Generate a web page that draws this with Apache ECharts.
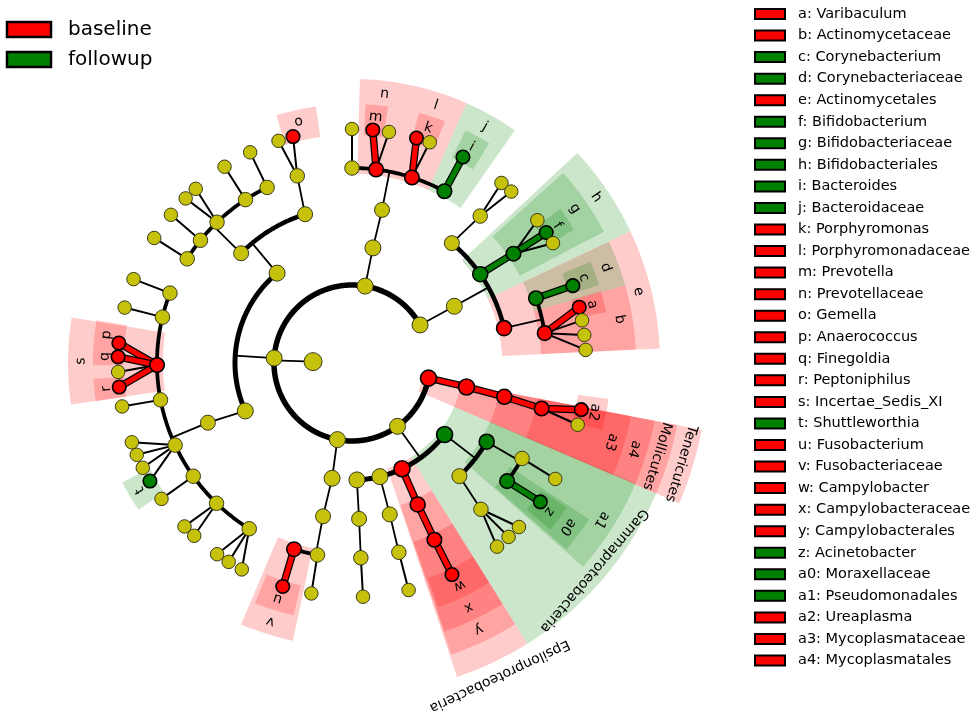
<!DOCTYPE html>
<html><head><meta charset="utf-8">
<script src="https://cdn.jsdelivr.net/npm/echarts@6/dist/echarts.min.js"></script>
<style>html,body{margin:0;padding:0;background:#fff}#c{width:976px;height:716px}</style>
</head><body><div id="c"></div>
<script>
// ---------- tree nodes: [id, parent, level, angle(deg, ccw from east), group 0=none 1=baseline 2=followup]
const rootNodes = [['root', null, 1, 178, 0]];
const phylumNodes = [
  ['Act','root',2,29.2,0], ['Bac','root',2,80.3,0], ['Fir','root',2,176.4,0],
  ['Fus','root',2,259.2,0], ['Pro','root',2,305.7,0], ['Ten','root',2,348.8,1]
];
const actinoNodes = [
  ['ActC','Act',3,29.0,0],
  ['e','ActC',4,12.9,1], ['h','ActC',4,34.7,2], ['ActO3','ActC',4,50.2,0],
  ['b','e',5,8.8,1], ['d','e',5,19.4,2],
  ['a','b',6,13.8,1], ['b1','b',6,10.5,0], ['b2','b',6,6.9,0], ['b3','b',6,3.2,0],
  ['c','d',6,19.3,2],
  ['g','h',5,34.1,2], ['f','g',6,33.9,2], ['g1','g',6,37.6,0], ['g2','g',6,30.8,0],
  ['ActF3','ActO3',5,48.9,0], ['ActG3a','ActF3',6,50.3,0], ['ActG3b','ActF3',6,47.1,0]
];
const bacteroNodes = [
  ['BacC','Bac',3,79.7,0], ['BacO','BacC',4,78.9,0],
  ['BacF1','BacO',5,90.0,0], ['n','BacO',5,82.9,1], ['l','BacO',5,72.1,1], ['j','BacO',5,61.7,2],
  ['BacG1','BacF1',6,90.0,0], ['m','n',6,84.9,1], ['n2','n',6,80.9,0],
  ['k','l',6,74.0,1], ['l2','l',6,70.6,0], ['i','j',6,61.7,2]
];
const firmiNodes = [
  ['Bacilli','Fir',3,129.8,0], ['Clostridia','Fir',3,204.2,0],
  ['GemO','Bacilli',4,107.5,0], ['LacO','Bacilli',4,135.3,0],
  ['GemF','GemO',5,106.3,0], ['o','GemF',6,104.6,1], ['GemG2','GemF',6,108.3,0],
  ['LacF1','LacO',5,115.8,0], ['LacF2','LacO',5,123.1,0], ['LacF3','LacO',5,133.8,0],
  ['LacF4','LacO',5,141.0,0], ['LacF5','LacO',5,147.7,0],
  ['LacG1','LacF1',6,115.8,0], ['LacG2','LacF2',6,123.0,0], ['LacG3a','LacF3',6,131.9,0],
  ['LacG3b','LacF3',6,135.3,0], ['LacG4','LacF4',6,140.7,0], ['LacG5','LacF5',6,147.7,0],
  ['CloO','Clostridia',4,202.5,0],
  ['CloF1','CloO',5,159.0,0], ['CloF2','CloO',5,166.4,0], ['s','CloO',5,180.6,1],
  ['CloF4','CloO',5,190.9,0], ['CloF5','CloO',5,204.9,0], ['CloF6','CloO',5,215.5,0],
  ['CloF7','CloO',5,226.0,0], ['CloF8','CloO',5,238.2,0],
  ['CloG1','CloF1',6,159.0,0], ['CloG2','CloF2',6,166.3,0],
  ['p','s',6,175.1,1], ['q','s',6,178.5,1], ['sG3','s',6,182.2,0], ['r','s',6,185.9,1],
  ['CloG4','CloF4',6,190.7,0],
  ['CloG5a','CloF5',6,199.8,0], ['CloG5b','CloF5',6,203.1,0], ['CloG5c','CloF5',6,206.6,0], ['t','CloF5',6,210.3,2],
  ['CloG6','CloF6',6,215.5,0],
  ['CloG7a','CloF7',6,224.3,0], ['CloG7b','CloF7',6,227.6,0],
  ['CloG8a','CloF8',6,234.8,0], ['CloG8b','CloF8',6,238.2,0], ['CloG8c','CloF8',6,241.9,0]
];
const fusoNodes = [
  ['FusC','Fus',3,260.2,0], ['FusO','FusC',4,259.3,0],
  ['v','FusO',5,252.7,1], ['FusF2','FusO',5,259.8,0],
  ['u','v',6,252.8,1], ['FusG2','FusF2',6,260.0,0]
];
const proteoNodes = [
  ['Beta','Pro',3,272.4,0], ['ProC2','Pro',3,283.8,0], ['Eps','Pro',3,295.3,1], ['Gam','Pro',3,322.3,2],
  ['BetaO','Beta',4,272.6,0], ['BetaF','BetaO',5,272.6,0], ['BetaG','BetaF',6,272.7,0],
  ['C2O','ProC2',4,284.0,0], ['C2F','C2O',5,283.9,0], ['C2G','C2F',6,284.0,0],
  ['y','Eps',4,294.9,1], ['x','y',5,295.0,1], ['w','x',6,295.3,1],
  ['a1','Gam',4,329.7,2], ['GamO2','Gam',4,313.5,0],
  ['a0','a1',5,322.7,2], ['PseF','a1',5,330.7,0],
  ['z','a0',6,323.6,2], ['PseG','PseF',6,330.3,0],
  ['PasF','GamO2',5,311.4,0], ['PasG1','PasF',6,315.5,0], ['PasG2','PasF',6,312.0,0], ['PasG3','PasF',6,308.3,0]
];
const teneNodes = [
  ['Mol','Ten',3,348.2,1], ['a4','Mol',4,347.5,1], ['a3','a4',5,346.5,1],
  ['a2','a3',6,348.5,1], ['TenG2','a3',6,344.7,0]
];

// ---------- highlighted clades
const cladeKeys = ['Tenericutes','Mollicutes','Gammaproteobacteria','Epsilonproteobacteria',
  'e','h','y','a1','a4',
  'b','d','g','j','l','n','s','v','x','a0','a3',
  'a','c','f','i','k','m','o','p','q','r','t','u','w','z','a2'];
const cladeLevels = [2,3,3,3, 4,4,4,4,4, 5,5,5,5,5,5,5,5,5,5,5, 6,6,6,6,6,6,6,6,6,6,6,6,6,6,6];
const cladeGroups = [1,1,2,1, 1,2,1,2,1, 1,2,2,2,1,1,1,1,1,2,1, 1,2,2,2,1,1,1,1,1,1,2,1,1,2,1];
const cladeFrom = [336.8,336.8,302.0,288.5, 2.7,25.3,288.8,318.6,336.8,
  2.7,15.9,27.5,55.0,66.2,77.8,170.8,247.0,289.0,319.0,336.8,
  11.3,17.5,31.0,58.0,69.0,82.0,98.0,170.5,176.5,183.5,207.5,248.0,289.5,320.0,345.0];
const cladeTo = [349.2,349.2,336.8,302.0, 25.3,43.0,302.0,337.0,349.2,
  15.9,25.3,42.0,66.2,77.8,88.4,188.4,258.0,302.0,326.6,349.2,
  16.1,23.0,36.5,64.0,75.0,87.0,107.0,176.5,180.5,188.5,214.5,257.0,302.0,326.0,352.0];

// ---------- legends
const groupNames = ['baseline','followup'];
const legendKeys = ['a','b','c','d','e','f','g','h','i','j','k','l','m','n','o','p','q','r','s','t','u','v','w','x','y','z','a0','a1','a2','a3','a4'];
const legendNames = ['Varibaculum','Actinomycetaceae','Corynebacterium','Corynebacteriaceae','Actinomycetales',
  'Bifidobacterium','Bifidobacteriaceae','Bifidobacteriales','Bacteroides','Bacteroidaceae','Porphyromonas',
  'Porphyromonadaceae','Prevotella','Prevotellaceae','Gemella','Anaerococcus','Finegoldia','Peptoniphilus',
  'Incertae_Sedis_XI','Shuttleworthia','Fusobacterium','Fusobacteriaceae','Campylobacter','Campylobacteraceae',
  'Campylobacterales','Acinetobacter','Moraxellaceae','Pseudomonadales','Ureaplasma','Mycoplasmataceae','Mycoplasmatales'];
const legendGroups = [1,1,2,2,1,2,2,2,2,2,1,1,1,1,1,1,1,1,1,2,1,1,1,1,1,2,2,2,1,1,1];

// ---------- styles / geometry
const PX = 39; // px per level unit
const groupColor = {0:'#c6c20c', 1:'#ff0000', 2:'#008000'};
const shadeColor = {1:'rgba(255,0,0,0.2)', 2:'rgba(0,128,0,0.2)'};
const outerPx = {2:356, 3:331, 4:308, 5:284, 6:259};
const labelPx = {2:344, 3:319, 4:295, 5:271, 6:247};
const nodeSize = {1:18, 2:16, 3:16, 4:15, 5:14.5, 6:13.5};
const arcW = {2:5.5, 3:5, 4:4.5, 5:3.8};
const FONT = '"DejaVu Sans", sans-serif';

const allNodes = [].concat(rootNodes, phylumNodes, actinoNodes, bacteroNodes, firmiNodes, fusoNodes, proteoNodes, teneNodes);
const kids = {};
allNodes.forEach(n => { if (n[1]) (kids[n[1]] = kids[n[1]] || []).push(n); });
const segs = [];
allNodes.forEach(p => {
  const ch = kids[p[0]]; if (!ch) return;
  const L = p[2], a = p[3];
  const fan = ch[0][2] === 6;
  if (fan || ch.length === 1) {
    ch.forEach(c => {
      const col = p[4] !== 0 && p[4] === c[4];
      segs.push({t:'line', r1:L, a1:a, r2:c[2], a2:c[3], w: col ? 5 : (fan ? 2 : 1.8), col: col ? groupColor[c[4]] : null});
    });
  } else {
    segs.push({t:'line', r1:L, a1:a, r2:L+1, a2:a, w:1.8, col:null});
    const angs = ch.map(c => c[3]).concat([a]);
    segs.push({t:'arc', r1:L+1, a1:Math.min.apply(null, angs), a2:Math.max.apply(null, angs), w:arcW[L+1], col:null});
  }
});

function segPoints(s, api) {
  if (s.t === 'line') return [api.coord([s.r1, s.a1]), api.coord([s.r2, s.a2])];
  const pts = []; const n = Math.max(2, Math.ceil((s.a2 - s.a1) / 0.5));
  for (let k = 0; k <= n; k++) pts.push(api.coord([s.r1, s.a1 + (s.a2 - s.a1) * k / n]));
  return pts;
}

const chart = echarts.init(document.getElementById('c'), null, {renderer:'canvas'});

const legendGraphics = [];
groupNames.forEach((g, i) => {
  legendGraphics.push({type:'rect', shape:{x:7, y:22 + i*30, width:44, height:15}, style:{fill:groupColor[i+1], stroke:'#000', lineWidth:2.5}});
  legendGraphics.push({type:'text', x:68, y:30 + i*30, style:{text:g, font:'20px ' + FONT, fill:'#000', verticalAlign:'middle'}});
});
legendKeys.forEach((k, i) => {
  const yc = 14 + i * 21.55;
  legendGraphics.push({type:'rect', shape:{x:755, y:yc - 5, width:30, height:10}, style:{fill:groupColor[legendGroups[i]], stroke:'#000', lineWidth:2}});
  legendGraphics.push({type:'text', x:798, y:yc, style:{text:k + ': ' + legendNames[i], font:'14.5px ' + FONT, fill:'#000', verticalAlign:'middle'}});
});

chart.setOption({
  animation:false,
  backgroundColor:'#fff',
  polar:{center:[352,363], radius:PX*10},
  angleAxis:{type:'value', min:0, max:360, startAngle:0, clockwise:false, show:false, splitLine:{show:false}},
  radiusAxis:{type:'value', min:0, max:10, show:false, splitLine:{show:false}},
  graphic: legendGraphics,
  series:[
    { // shaded clade sectors
      type:'custom', coordinateSystem:'polar', z:1, silent:true,
      data: cladeKeys.map((k, i) => [cladeLevels[i], (cladeFrom[i] + cladeTo[i]) / 2]),
      renderItem: function(params, api) {
        const i = params.dataIndex, L = cladeLevels[i];
        const r0 = L - 0.15, r1 = outerPx[L] / PX;
        const a0 = cladeFrom[i], a1 = cladeTo[i];
        const n = Math.max(2, Math.ceil((a1 - a0) / 0.5));
        const pts = [];
        for (let k = 0; k <= n; k++) pts.push(api.coord([r1, a0 + (a1 - a0) * k / n]));
        for (let k = n; k >= 0; k--) pts.push(api.coord([r0, a0 + (a1 - a0) * k / n]));
        return {type:'polygon', shape:{points:pts}, style:{fill:shadeColor[cladeGroups[i]]}};
      }
    },
    { // tree edges
      type:'custom', coordinateSystem:'polar', z:2, silent:true,
      data: segs.map(s => [s.r1, s.a1]),
      renderItem: function(params, api) {
        const s = segs[params.dataIndex];
        const pts = segPoints(s, api);
        const children = [];
        if (s.col) {
          children.push({type:'polyline', shape:{points:pts}, style:{stroke:'#000', lineWidth:s.w + 2.5, fill:null, lineCap:'round'}});
          children.push({type:'polyline', shape:{points:pts}, style:{stroke:s.col, lineWidth:s.w, fill:null, lineCap:'round'}});
        } else {
          children.push({type:'polyline', shape:{points:pts}, style:{stroke:'#000', lineWidth:s.w, fill:null, lineCap:'round'}});
        }
        return {type:'group', children:children};
      }
    },
    { // nodes
      type:'scatter', coordinateSystem:'polar', z:3, silent:true,
      data: allNodes.map(n => ({
        value:[n[2], n[3]],
        symbolSize: nodeSize[n[2]],
        itemStyle:{color:groupColor[n[4]], borderColor: n[4] ? '#000' : '#3a3a1a', borderWidth: n[4] ? 1.6 : 1, opacity:1}
      }))
    },
    { // clade labels
      type:'custom', coordinateSystem:'polar', z:4, silent:true,
      data: cladeKeys.map((k, i) => [cladeLevels[i], (cladeFrom[i] + cladeTo[i]) / 2]),
      renderItem: function(params, api) {
        const i = params.dataIndex, L = cladeLevels[i];
        const name = cladeKeys[i];
        const mid = (cladeFrom[i] + cladeTo[i]) / 2;
        let lr = labelPx[L];
        const estW = name.length * 7.6;
        const arcLen = lr * (cladeTo[i] - cladeFrom[i]) * Math.PI / 180;
        if (estW > arcLen * 1.5) lr = outerPx[L] + 15;
        const p = api.coord([lr / PX, mid]);
        return {type:'text', x:p[0], y:p[1], rotation:(mid - 90) * Math.PI / 180,
          style:{text:name, font:'14px ' + FONT, fill:'#000', align:'center', verticalAlign:'middle'}};
      }
    }
  ]
});
</script></body></html>
